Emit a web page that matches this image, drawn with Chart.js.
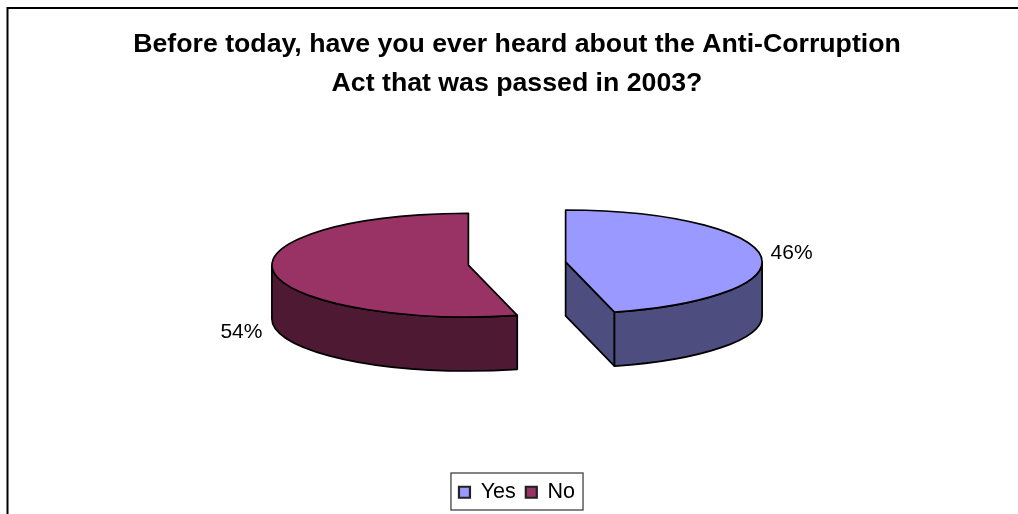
<!DOCTYPE html>
<html>
<head>
<meta charset="utf-8">
<style>
    html, body { margin: 0; padding: 0; background: #fff; }
    #wrap { width: 1018px; height: 514px; }
</style>
<script src="https://cdn.jsdelivr.net/npm/chart.js@4/dist/chart.umd.min.js"></script>
</head>
<body>
<div id="wrap"><canvas id="pie" width="1018" height="514"></canvas></div>
<script>
const categories = ['Yes', 'No'];
const values = [46, 54];
const titleLines = ['Before today, have you ever heard about the Anti-Corruption', 'Act that was passed in 2003?'];

const topColors = ['#9999FF', '#993366'];
const wallColors = ['#4D4D80', '#4D1933'];

const squash = 0.264;      // vertical flattening of the pie
const depth = 54;          // height of the side wall in px
const explode = 49;        // how far each slice is pulled out of the centre
const pieY = 263.5;        // where the flattened pie sits on the canvas
const outlineWidth = 1.7;
const labelShift = [[31, -2], [-32, 61]];

function baseY(chart) {
    return (chart.chartArea.top + chart.chartArea.bottom) / 2;
}

// geometry of one arc as it ends up on screen, after the flattening
function sliceShape(chart, arc) {
    const { x, y, startAngle, endAngle, outerRadius } = arc;
    return {
        cx: x,
        cy: pieY + (y - baseY(chart)) * squash,
        rx: outerRadius,
        ry: outerRadius * squash,
        start: startAngle,
        end: endAngle,
        mid: (startAngle + endAngle) / 2
    };
}

function rimPoint(s, angle) {
    return [s.cx + Math.cos(angle) * s.rx, s.cy + Math.sin(angle) * s.ry];
}

function paint(ctx, fill) {
    ctx.fillStyle = fill;
    ctx.fill();
    ctx.stroke();
}

function drawRadialFace(ctx, s, angle, fill) {
    const p = rimPoint(s, angle);
    ctx.beginPath();
    ctx.moveTo(s.cx, s.cy);
    ctx.lineTo(p[0], p[1]);
    ctx.lineTo(p[0], p[1] + depth);
    ctx.lineTo(s.cx, s.cy + depth);
    ctx.closePath();
    paint(ctx, fill);
}

function drawOuterWall(ctx, s, fill) {
    const from = Math.max(s.start, 0);
    const to = Math.min(s.end, Math.PI);
    if (to <= from) return;
    ctx.beginPath();
    ctx.ellipse(s.cx, s.cy, s.rx, s.ry, 0, from, to);
    ctx.ellipse(s.cx, s.cy + depth, s.rx, s.ry, 0, to, from, true);
    ctx.closePath();
    paint(ctx, fill);
}

const flatPie = {
    id: 'flatPie',
    // the built-in arc offset bends the slice edges, so pull the arcs out by hand
    afterDatasetsUpdate(chart) {
        chart.getDatasetMeta(0).data.forEach(arc => {
            const mid = (arc.startAngle + arc.endAngle) / 2;
            arc.x += Math.cos(mid) * explode;
            arc.y += Math.sin(mid) * explode;
        });
    },
    beforeDatasetsDraw(chart) {
        const ctx = chart.ctx;

        ctx.save();
        ctx.strokeStyle = '#000';
        ctx.lineWidth = outlineWidth;
        ctx.lineJoin = 'round';
        chart.getDatasetMeta(0).data.forEach((arc, i) => {
            const s = sliceShape(chart, arc);
            if (Math.cos(s.start) < -0.001) drawRadialFace(ctx, s, s.start, wallColors[i]);
            if (Math.cos(s.end) > 0.001) drawRadialFace(ctx, s, s.end, wallColors[i]);
            drawOuterWall(ctx, s, wallColors[i]);
        });
        ctx.restore();

        // the library draws the top faces, just squeezed flat
        ctx.save();
        ctx.translate(0, pieY);
        ctx.scale(1, squash);
        ctx.translate(0, -baseY(chart));
    },
    afterDatasetsDraw(chart) {
        const ctx = chart.ctx;
        ctx.restore();

        ctx.save();
        ctx.strokeStyle = '#000';
        ctx.lineWidth = outlineWidth;
        ctx.lineJoin = 'round';
        chart.getDatasetMeta(0).data.forEach((arc, i) => {
            const s = sliceShape(chart, arc);
            ctx.beginPath();
            ctx.moveTo(s.cx, s.cy);
            ctx.ellipse(s.cx, s.cy, s.rx, s.ry, 0, s.start, s.end);
            ctx.closePath();
            ctx.stroke();

            const rim = rimPoint(s, s.mid);
            ctx.fillStyle = '#000';
            ctx.font = '21px "Liberation Sans"';
            ctx.textAlign = 'center';
            ctx.textBaseline = 'middle';
            ctx.fillText(values[i] + '%', rim[0] + labelShift[i][0], rim[1] + labelShift[i][1]);
        });
        ctx.restore();
    },
    afterDraw(chart) {
        const ctx = chart.ctx;
        const boxes = chart.legend.legendHitBoxes;
        const left = boxes[0].left - 8;
        const right = boxes[boxes.length - 1].left + boxes[boxes.length - 1].width + 8;

        ctx.save();
        ctx.strokeStyle = '#333';
        ctx.lineWidth = 1.2;
        ctx.strokeRect(left, 473, right - left, 37);

        // frame around the figure, open at the right and at the bottom
        ctx.strokeStyle = '#000';
        ctx.lineWidth = 2;
        ctx.beginPath();
        ctx.moveTo(7.5, 514);
        ctx.lineTo(7.5, 8);
        ctx.lineTo(1018, 8);
        ctx.stroke();
        ctx.restore();
    }
};

new Chart(document.getElementById('pie'), {
    type: 'pie',
    data: {
        labels: categories,
        datasets: [{
            data: values,
            backgroundColor: topColors,
            borderWidth: 0,
            clip: false
        }]
    },
    options: {
        responsive: false,
        animation: false,
        events: [],
        radius: 196.5,
        layout: { padding: { left: 16, top: 25, bottom: 1 } },
        plugins: {
            tooltip: { enabled: false },
            title: {
                display: true,
                text: titleLines,
                color: '#000',
                font: { family: '"Liberation Sans"', size: 26.7, weight: 'bold', lineHeight: 1.455 },
                padding: { top: 0, bottom: 10 }
            },
            legend: {
                position: 'bottom',
                labels: {
                    color: '#000',
                    font: { family: '"Liberation Sans"', size: 21.5 },
                    boxWidth: 11,
                    boxHeight: 11,
                    padding: 10,
                    generateLabels() {
                        return categories.map((name, i) => ({
                            text: name,
                            fillStyle: topColors[i],
                            strokeStyle: '#222',
                            lineWidth: 2.2,
                            index: i
                        }));
                    }
                }
            }
        }
    },
    plugins: [flatPie]
});
</script>
</body>
</html>
